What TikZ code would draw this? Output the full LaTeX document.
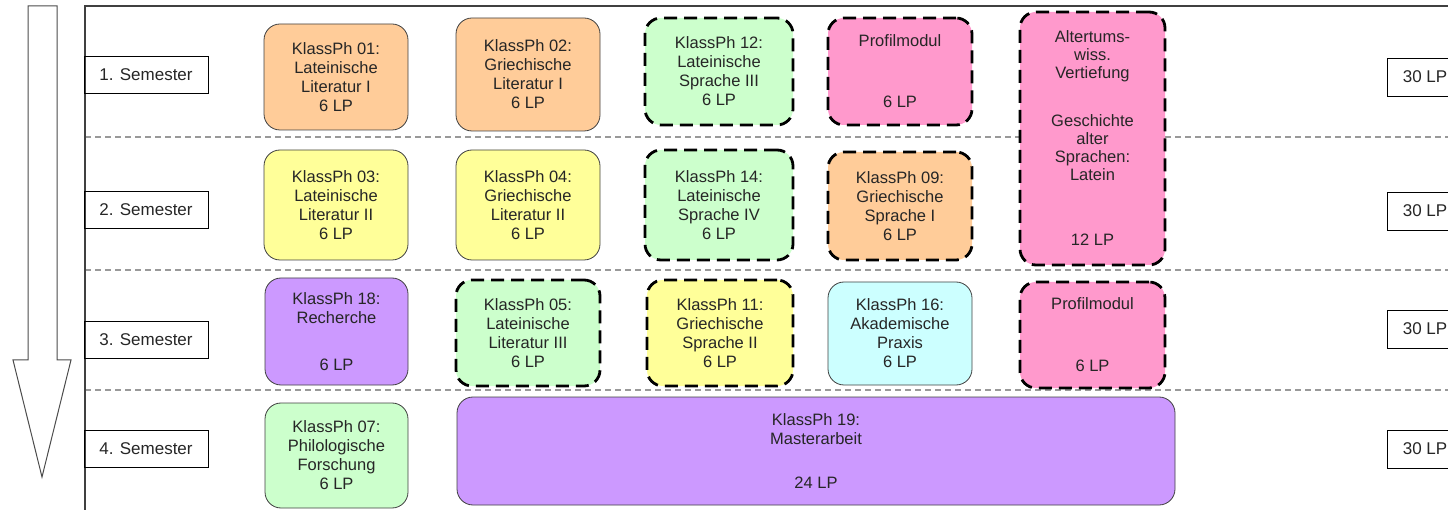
\documentclass[tikz,border=0pt]{standalone}
\usepackage{fontspec}
\setmainfont{Liberation Sans}
\definecolor{corange}{HTML}{FFCC99}
\definecolor{cyellow}{HTML}{FFFF99}
\definecolor{cgreen}{HTML}{CCFFCC}
\definecolor{cpink}{HTML}{FF99CC}
\definecolor{cpurple}{HTML}{CC99FF}
\definecolor{ccyan}{HTML}{CCFFFF}
\begin{document}
\begin{tikzpicture}[x=1pt,y=-1pt,
  txt/.style={font=\fontsize{17}{19}\selectfont, text=black!85},
  mod/.style={font=\fontsize{16.5}{19}\selectfont, text=black!85, rounded corners=16pt, draw=black!75, line width=0.8pt, align=center, inner sep=2pt},
  dmod/.style={mod, draw=black, line width=2.8pt, dash pattern=on 13pt off 7pt},
  sem/.style={txt, draw=black, line width=0.9pt, minimum width=124pt, minimum height=37pt, inner sep=0pt},
  lp/.style={txt, draw=black, line width=0.9pt, minimum width=76pt, minimum height=38pt, inner sep=0pt},
  sep/.style={draw=black!40, line width=1.3pt, dash pattern=on 6pt off 4pt},
  frame/.style={draw=black!75, line width=1.2pt}
]
\useasboundingbox (0,0) rectangle (1448,510);

% time arrow
\draw[black!70, fill=white, line width=1pt]
  (28,6) -- (57,6) -- (57,360) -- (71,360) -- (42,477) -- (13,360) -- (28,360) -- cycle;

% separators
\foreach \yy in {137,270,390} \draw[sep] (85,\yy) -- (1448,\yy);

% frame
\draw[frame] (85,510) -- (85,6) -- (1448,6);

% semester labels
\node[sem] (s1) at (146,75) {1. Semester};
\node[sem] (s2) at (146,210) {2. Semester};
\node[sem] (s3) at (146,340) {3. Semester};
\node[sem] (s4) at (146,449) {4. Semester};

% LP labels
\node[lp] (p1) at (1425,77) {30 LP};
\node[lp] (p2) at (1425,211) {30 LP};
\node[lp] (p3) at (1425,329) {30 LP};
\node[lp] (p4) at (1425,449) {30 LP};

% row 1
\node[mod, fill=corange, minimum width=144pt, minimum height=106pt] (m01) at (336,77)
  {KlassPh 01:\\Lateinische\\Literatur I\\6 LP};
\node[mod, fill=corange, minimum width=144pt, minimum height=113pt] (m02) at (528,74.5)
  {KlassPh 02:\\Griechische\\Literatur I\\6 LP};
\node[dmod, fill=cgreen, minimum width=148pt, minimum height=107pt] (m12) at (719,71.5)
  {KlassPh 12:\\Lateinische\\Sprache III\\6 LP};
\node[dmod, fill=cpink, minimum width=144pt, minimum height=107pt] (pm1) at (900,71.5)
  {Profilmodul\\[42pt]6 LP};
\node[dmod, fill=cpink, minimum width=145pt, minimum height=253pt,
  font=\fontsize{16.5}{18}\selectfont] (alt) at (1092.5,138.5)
  {Altertums-\\wiss.\\Vertiefung\\[30pt]Geschichte\\alter\\Sprachen:\\Latein\\[47pt]12 LP};

% row 2
\node[mod, fill=cyellow, minimum width=144pt, minimum height=110pt] (m03) at (336,205)
  {KlassPh 03:\\Lateinische\\Literatur II\\6 LP};
\node[mod, fill=cyellow, minimum width=144pt, minimum height=110pt] (m04) at (528,205)
  {KlassPh 04:\\Griechische\\Literatur II\\6 LP};
\node[dmod, fill=cgreen, minimum width=148pt, minimum height=110pt] (m14) at (719,205)
  {KlassPh 14:\\Lateinische\\Sprache IV\\6 LP};
\node[dmod, fill=corange, minimum width=144pt, minimum height=108pt] (m09) at (900,206)
  {KlassPh 09:\\Griechische\\Sprache I\\6 LP};

% row 3
\node[mod, fill=cpurple, minimum width=143pt, minimum height=107pt] (m18) at (336.5,331.5)
  {KlassPh 18:\\Recherche\\[28pt]6 LP};
\node[dmod, fill=cgreen, minimum width=144pt, minimum height=106pt] (m05) at (528,333)
  {KlassPh 05:\\Lateinische\\Literatur III\\6 LP};
\node[dmod, fill=cyellow, minimum width=146pt, minimum height=106pt] (m11) at (720,333)
  {KlassPh 11:\\Griechische\\Sprache II\\6 LP};
\node[mod, fill=ccyan, minimum width=144pt, minimum height=103pt] (m16) at (900,333.5)
  {KlassPh 16:\\Akademische\\Praxis\\6 LP};
\node[dmod, fill=cpink, minimum width=145pt, minimum height=106pt] (pm3) at (1092.5,335)
  {Profilmodul\\[43pt]6 LP};

% row 4
\node[mod, fill=cgreen, minimum width=143pt, minimum height=105pt] (m07) at (336.5,455.5)
  {KlassPh 07:\\Philologische\\Forschung\\6 LP};
\node[mod, fill=cpurple, minimum width=718pt, minimum height=108pt] (m19) at (816,451)
  {KlassPh 19:\\Masterarbeit\\[25pt]24 LP};
\end{tikzpicture}
\end{document}
